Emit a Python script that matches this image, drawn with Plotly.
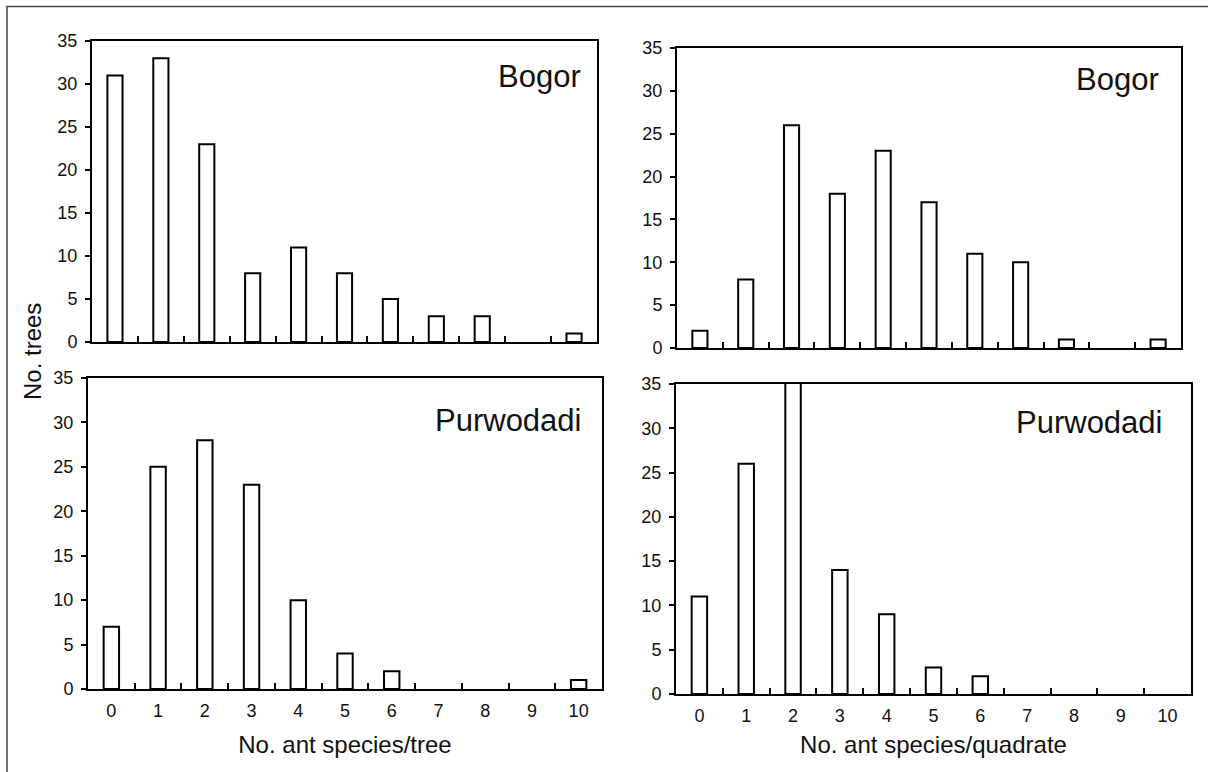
import plotly.graph_objects as go

categories = ["0", "1", "2", "3", "4", "5", "6", "7", "8", "9", "10"]
bogor_tree = [31, 33, 23, 8, 11, 8, 5, 3, 3, 0, 1]
bogor_quadrate = [2, 8, 26, 18, 23, 17, 11, 10, 1, 0, 1]
purwodadi_tree = [7, 25, 28, 23, 10, 4, 2, 0, 0, 0, 1]
purwodadi_quadrate = [11, 26, 37, 14, 9, 3, 2, 0, 0, 0, 0]
panel_labels = ["Bogor", "Bogor", "Purwodadi", "Purwodadi"]
x_titles = ["No. ant species/tree", "No. ant species/quadrate"]
y_title = "No. trees"

W, H = 1208, 772
FONT = "Liberation Sans, Arial, sans-serif"

# pixel boxes (left, right, top, bottom)
boxes = [
    (92, 597, 41, 342),
    (677, 1181, 48, 348),
    (88, 602, 378, 689),
    (676, 1191, 384, 694),
]
series = [bogor_tree, bogor_quadrate, purwodadi_tree, purwodadi_quadrate]
label_pos = [(583, 76), (1161, 79), (583, 420), (1164, 423)]
title_standoff = [None, None, 17, 12]

fig = go.Figure()
layout = dict(
    width=W, height=H, autosize=False,
    margin=dict(l=0, r=0, t=0, b=0, pad=0, autoexpand=False),
    paper_bgcolor="white", plot_bgcolor="white",
    showlegend=False,
    font=dict(family=FONT, color="#111"),
)

annotations = []
for i, (vals, (l, r, t, b)) in enumerate(zip(series, boxes)):
    n = "" if i == 0 else str(i + 1)
    fig.add_trace(go.Bar(
        x=categories, y=vals, width=0.33,
        marker=dict(color="white",
                    line=dict(color="black", width=[2 if v > 0 else 0 for v in vals])),
        xaxis="x" + n, yaxis="y" + n, cliponaxis=True, hoverinfo="skip",
    ))
    bottom_row = i >= 2
    layout["xaxis" + n] = dict(
        domain=[l / W, r / W], anchor="y" + n, type="category", automargin=False,
        range=[-0.5, 10.5], tickson="boundaries", ticks="inside", ticklen=6,
        tickwidth=2, tickcolor="black",
        showline=True, linecolor="black", linewidth=2, mirror=True,
        showgrid=False, zeroline=False, fixedrange=True,
        showticklabels=bottom_row, ticklabelstandoff=4,
        tickfont=dict(size=18, family=FONT, color="#111"),
        title=dict(text=x_titles[i - 2], font=dict(size=24, family=FONT, color="#111"),
                   standoff=title_standoff[i]) if bottom_row else None,
    )
    layout["yaxis" + n] = dict(
        domain=[1 - b / H, 1 - t / H], anchor="x" + n, automargin=False,
        range=[0, 35], dtick=5, tick0=0, ticks="outside", ticklen=5, tickwidth=2,
        tickcolor="black", showline=True, linecolor="black", linewidth=2, mirror=True,
        showgrid=False, zeroline=False, fixedrange=True,
        tickfont=dict(size=18, family=FONT, color="#111"), ticklabelstandoff=4,
    )
    lx, ly = label_pos[i]
    annotations.append(dict(
        text=panel_labels[i], xref="paper", yref="paper",
        x=lx / W, y=1 - ly / H, xanchor="right", yanchor="middle",
        showarrow=False, font=dict(size=31, family=FONT, color="#111"),
    ))

annotations.append(dict(
    text=y_title, xref="paper", yref="paper", x=32 / W, y=1 - 352 / H,
    xanchor="center", yanchor="middle", textangle=-90, showarrow=False,
    font=dict(size=24, family=FONT, color="#111"),
))
layout["annotations"] = annotations
layout["shapes"] = [dict(
    type="rect", xref="paper", yref="paper",
    x0=7 / W, x1=1.05, y0=-0.05, y1=1 - 6.5 / H,
    line=dict(color="#444", width=1.5),
)]
fig.update_layout(**layout)
fig.write_html(
    "out.html",
    config={"displayModeBar": False},
    post_script="document.body.style.margin='0px';document.body.style.overflow='hidden';",
)
